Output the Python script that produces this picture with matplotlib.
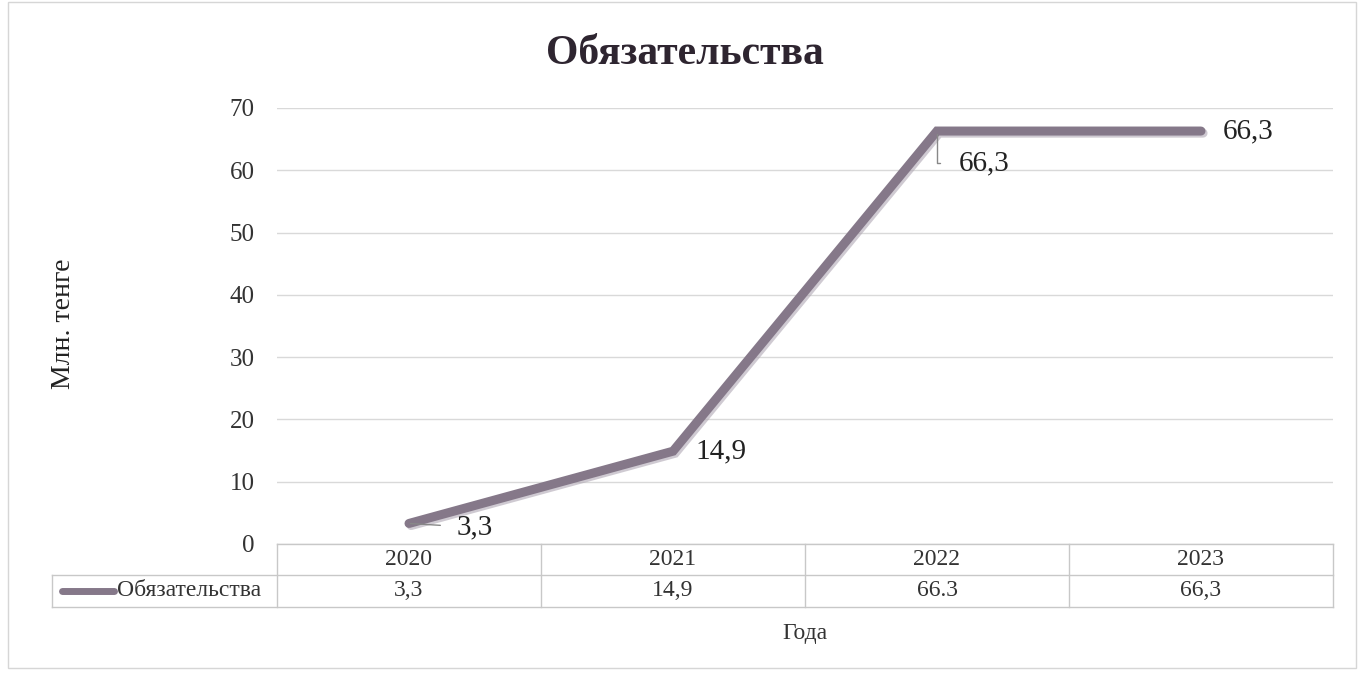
import matplotlib
matplotlib.use("Agg")
import matplotlib.pyplot as plt
import matplotlib.patheffects as pe
from matplotlib.patches import Rectangle
from matplotlib.lines import Line2D

years = ["2020", "2021", "2022", "2023"]
values = [3.3, 14.9, 66.3, 66.3]
point_labels = ["3,3", "14,9", "66,3", "66,3"]
table_labels = ["3,3", "14,9", "66.3", "66,3"]
series_name = "Обязательства"
title = "Обязательства"
ylabel = "Млн. тенге"
xlabel = "Года"
yticks = [0, 10, 20, 30, 40, 50, 60, 70]

plt.rcParams['font.family'] = ['Liberation Serif', 'DejaVu Serif']
W, H = 1364, 673
fig = plt.figure(figsize=(W / 100, H / 100), dpi=100)

def fx(px):
    return px / W

def fy(py):
    return 1 - py / H

line_color = "#857889"

# main axes
x0, x1, ytop, ybot = 277, 1333, 108, 544
ax = fig.add_axes([fx(x0), fy(ybot), fx(x1 - x0), (ybot - ytop) / H])
xs = list(range(len(years)))
ax.set_xlim(-0.5, len(years) - 0.5)
ax.set_ylim(0, 70)
ax.set_yticks(yticks)
ax.set_yticklabels([str(t) for t in yticks], fontsize=18, color="#333333")
ax.tick_params(axis='y', length=0, pad=16)
ax.set_xticks([])
for s in ax.spines.values():
    s.set_visible(False)
ax.grid(axis='y', color="#d9d9d9", linewidth=1)
ax.set_axisbelow(True)

ax.plot(xs, values, color=line_color, linewidth=6.5, solid_capstyle='round',
        solid_joinstyle='miter', zorder=3,
        path_effects=[pe.SimpleLineShadow(offset=(1.5, -1.5), shadow_color="#b0a8b4", alpha=0.6),
                      pe.Normal()])

# data labels
offsets = [(48, -4), (22, 0), (22, -32), (22, 0)]
for i, (v, lab, off) in enumerate(zip(values, point_labels, offsets)):
    if i == 0:
        ax.annotate(lab, (i, v), xytext=off, textcoords='offset pixels',
                    fontsize=21, va='center', ha='left', color="#222222",
                    arrowprops=dict(arrowstyle='-', color="#888888", lw=1,
                                    shrinkA=10, shrinkB=1))
    elif i == 2:
        ax.annotate(lab, (i, v), xytext=off, textcoords='offset pixels',
                    fontsize=21, va='center', ha='left', color="#222222",
                    arrowprops=dict(arrowstyle='-', color="#888888", lw=1,
                                    shrinkA=12, shrinkB=2,
                                    connectionstyle="angle,angleA=0,angleB=90,rad=0"))
    else:
        ax.annotate(lab, (i, v), xytext=off, textcoords='offset pixels',
                    fontsize=21, va='center', ha='left', color="#222222")

fig.text(fx(63), fy(324), ylabel, fontsize=20, rotation=90, ha='center',
         va='center', color="#222222")

# title
fig.text(fx(685), fy(54), title, fontsize=30, fontweight='bold', ha='center',
         va='center', color="#2e2530")

# data table drawn below axes
row_top, row_mid, row_bot = 544, 575, 607
label_left = 52
tcol = "#c8c8c8"
trans = ax.get_xaxis_transform()
def yax(py):
    return (ybot - py) / (ybot - ytop)

ax.add_line(Line2D([-0.5, len(years) - 0.5], [yax(row_top)] * 2, transform=trans,
                   color=tcol, lw=1, clip_on=False))
lx = ax.transData.inverted().transform((fig.transFigure.transform((fx(label_left), 0))))[0]
for py in (row_mid, row_bot):
    ax.add_line(Line2D([lx, len(years) - 0.5], [yax(py)] * 2, transform=trans,
                       color=tcol, lw=1, clip_on=False))
for b in [i - 0.5 for i in range(len(years) + 1)]:
    ax.add_line(Line2D([b, b], [yax(row_top), yax(row_bot)], transform=trans,
                       color=tcol, lw=1, clip_on=False))
ax.add_line(Line2D([lx, lx], [yax(row_mid), yax(row_bot)], transform=trans,
                   color=tcol, lw=1, clip_on=False))

for i, (yr, tl) in enumerate(zip(years, table_labels)):
    ax.text(i, yax((row_top + row_mid) / 2), yr, transform=trans, ha='center',
            va='center', fontsize=17, color="#333333", clip_on=False)
    ax.text(i, yax((row_mid + row_bot) / 2), tl, transform=trans, ha='center',
            va='center', fontsize=17, color="#333333", clip_on=False)

# legend key in table
ymid = fy((row_mid + row_bot) / 2)
fig.add_artist(Line2D([fx(62), fx(114)], [ymid, ymid], color=line_color, lw=5,
                      solid_capstyle='round'))
fig.text(fx(117), ymid, series_name, fontsize=17, ha='left', va='center', color="#333333")

fig.text(fx(805), fy(633), xlabel, fontsize=17, ha='center', va='center', color="#333333")

# chart border
fig.add_artist(Rectangle((fx(8), fy(668)), fx(1348), (668 - 2) / H,
                         transform=fig.transFigure, fill=False,
                         edgecolor="#d6d6d6", lw=1))

fig.savefig("out.png", dpi=100, facecolor="white")
